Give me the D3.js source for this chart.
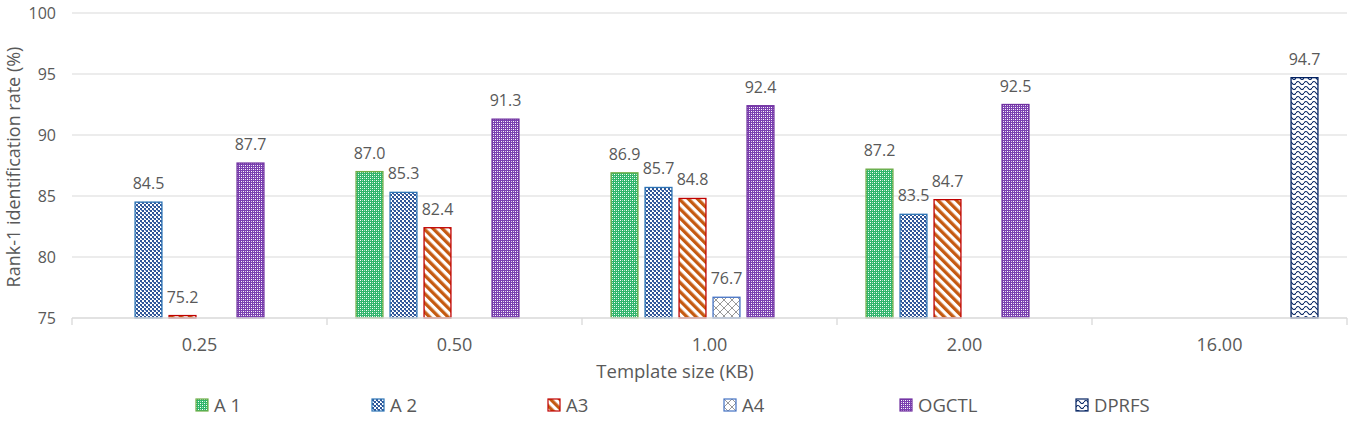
<!DOCTYPE html>
<html>
<head>
<meta charset="utf-8">
<script src="https://cdn.jsdelivr.net/npm/d3@7"></script>
<style>
  body { margin: 0; background: #fff; }
  text { font-family: "Open Sans", sans-serif; fill: #595959; }
</style>
</head>
<body>
<div id="chart"></div>
<script>
const categories = ['0.25', '0.50', '1.00', '2.00', '16.00'];
const seriesNames = ['A1', 'A2', 'A3', 'A4', 'OGCTL', 'DPRFS'];
const legendLabels = ['A 1', 'A 2', 'A3', 'A4', 'OGCTL', 'DPRFS'];
const a1 = [null, 87.0, 86.9, 87.2, null];
const a2 = [84.5, 85.3, 85.7, 83.5, null];
const a3 = [75.2, 82.4, 84.8, 84.7, null];
const a4 = [null, null, 76.7, null, null];
const ogctl = [87.7, 91.3, 92.4, 92.5, null];
const dprfs = [null, null, null, null, 94.7];
const yTicks = [75, 80, 85, 90, 95, 100];

document.addEventListener('DOMContentLoaded', function () {
    const w = 1355, h = 421;
    const margin = {left: 72, right: 8, top: 13, bottom: 103};
    const values = [a1, a2, a3, a4, ogctl, dprfs];

    const svg = d3.select('#chart').append('svg')
        .attr('width', w)
        .attr('height', h);

    // patterns for each series
    const defs = svg.append('defs');
    function pat(id, pw, ph, tr) {
        const p = defs.append('pattern').attr('id', id)
            .attr('patternUnits', 'userSpaceOnUse')
            .attr('width', pw).attr('height', ph);
        if (tr) p.attr('patternTransform', tr);
        return p;
    }
    function dots(p, pts, col) {
        pts.forEach(q => p.append('rect').attr('x', q[0]).attr('y', q[1])
            .attr('width', 1).attr('height', 1).attr('fill', col));
    }
    let p = pat('pA1', 4, 4);
    p.append('rect').attr('width', 4).attr('height', 4).attr('fill', '#2fb56b');
    dots(p, [[0, 0], [2, 2]], '#fff');
    dots(p, [[2, 0], [0, 2]], '#a9e2bf');

    p = pat('pA2', 4, 4);
    p.append('rect').attr('width', 4).attr('height', 4).attr('fill', '#fff');
    p.append('rect').attr('x', 0).attr('y', 0).attr('width', 2).attr('height', 2).attr('fill', '#2f5597');
    p.append('rect').attr('x', 2).attr('y', 2).attr('width', 2).attr('height', 2).attr('fill', '#2f5597');
    dots(p, [[1, 2]], '#6f8fc4');

    p = pat('pA3', 6.5, 6.5, 'rotate(-45)');
    p.append('rect').attr('width', 6.5).attr('height', 6.5).attr('fill', '#fff');
    p.append('rect').attr('width', 3.3).attr('height', 6.5).attr('fill', '#c55a11');

    p = pat('pA4', 8, 8);
    p.append('rect').attr('width', 8).attr('height', 8).attr('fill', '#fff');
    p.append('path').attr('d', 'M0,0L8,8M8,0L0,8').attr('stroke', '#7f7f7f').attr('stroke-width', 0.8);

    p = pat('pOG', 4, 4);
    p.append('rect').attr('width', 4).attr('height', 4).attr('fill', '#7a3fb0');
    dots(p, [[1, 1], [3, 3]], '#fff');
    dots(p, [[3, 1], [1, 3]], '#dccbec');

    p = pat('pDP', 8, 5);
    p.append('rect').attr('width', 8).attr('height', 5).attr('fill', '#fff');
    p.append('path').attr('d', 'M0,3Q2,0 4,3T8,3').attr('fill', 'none')
        .attr('stroke', '#002060').attr('stroke-width', 1.1);

    const fills = ['url(#pA1)', 'url(#pA2)', 'url(#pA3)', 'url(#pA4)', 'url(#pOG)', 'url(#pDP)'];
    const strokes = ['#70ad47', '#2e75b6', '#c00000', '#4472c4', '#7030a0', '#002060'];

    const x0 = d3.scaleBand().domain(categories).range([margin.left, w - margin.right]);
    const x1 = d3.scaleBand().domain(seriesNames).range([0, x0.bandwidth()])
        .paddingInner(0.18).paddingOuter(0.84);
    const y = d3.scaleLinear().domain([75, 100]).range([h - margin.bottom, margin.top]);

    // gridlines
    svg.append('g').selectAll('line')
        .data(yTicks.slice(1))
        .enter().append('line')
        .attr('x1', margin.left).attr('x2', w - margin.right)
        .attr('y1', d => y(d)).attr('y2', d => y(d))
        .attr('stroke', '#d9d9d9').attr('stroke-width', 1);

    // y tick labels
    svg.append('g').selectAll('text')
        .data(yTicks)
        .enter().append('text')
        .attr('x', 56).attr('y', d => y(d) + 6)
        .attr('text-anchor', 'end')
        .style('font-size', '16px')
        .text(d => d);

    // bars
    const flat = [];
    values.forEach((vals, si) => vals.forEach((v, ci) => {
        if (v != null) flat.push({s: si, c: categories[ci], v: v});
    }));

    svg.append('g').selectAll('rect')
        .data(flat)
        .enter().append('rect')
        .attr('x', d => x0(d.c) + x1(seriesNames[d.s]) + 0.5)
        .attr('y', d => y(d.v))
        .attr('width', x1.bandwidth() - 1)
        .attr('height', d => y(75) - y(d.v))
        .attr('fill', d => fills[d.s])
        .attr('stroke', d => strokes[d.s])
        .attr('stroke-width', 1.3);

    svg.append('g').selectAll('text')
        .data(flat)
        .enter().append('text')
        .attr('x', d => x0(d.c) + x1(seriesNames[d.s]) + x1.bandwidth() / 2)
        .attr('y', d => y(d.v) - 13)
        .attr('text-anchor', 'middle')
        .style('font-size', '16px')
        .text(d => d.v.toFixed(1));

    // x axis
    const xAxis = svg.append('g').attr('transform', `translate(0,${y(75)})`);
    xAxis.append('line')
        .attr('x1', margin.left).attr('x2', w - margin.right)
        .attr('stroke', '#d9d9d9').attr('stroke-width', 1.3);
    const bounds = categories.map(c => x0(c)).concat([w - margin.right]);
    xAxis.selectAll('.tk').data(bounds).enter().append('line')
        .attr('x1', d => d).attr('x2', d => d)
        .attr('y1', 0).attr('y2', 7)
        .attr('stroke', '#d9d9d9').attr('stroke-width', 1.3);
    xAxis.selectAll('.lb').data(categories).enter().append('text')
        .attr('x', d => x0(d) + x0.bandwidth() / 2)
        .attr('y', 33)
        .attr('text-anchor', 'middle')
        .style('font-size', '18px')
        .text(d => d);

    svg.append('text')
        .attr('x', 675).attr('y', 378)
        .attr('text-anchor', 'middle')
        .style('font-size', '18.5px')
        .text('Template size (KB)');

    svg.append('text')
        .attr('transform', 'translate(20,167) rotate(-90)')
        .attr('text-anchor', 'middle')
        .style('font-size', '18px')
        .text('Rank-1 identification rate (%)');

    // legend
    const lg = svg.append('g').selectAll('g')
        .data(seriesNames)
        .enter().append('g')
        .attr('transform', (d, i) => `translate(${196 + i * 176},399)`);
    lg.append('rect')
        .attr('width', 12).attr('height', 12)
        .attr('fill', (d, i) => fills[i])
        .attr('stroke', (d, i) => strokes[i])
        .attr('stroke-width', 1.2);
    lg.append('text')
        .attr('x', 18).attr('y', 12.5)
        .style('font-size', '18.5px')
        .text((d, i) => legendLabels[i]);
});
</script>
</body>
</html>
